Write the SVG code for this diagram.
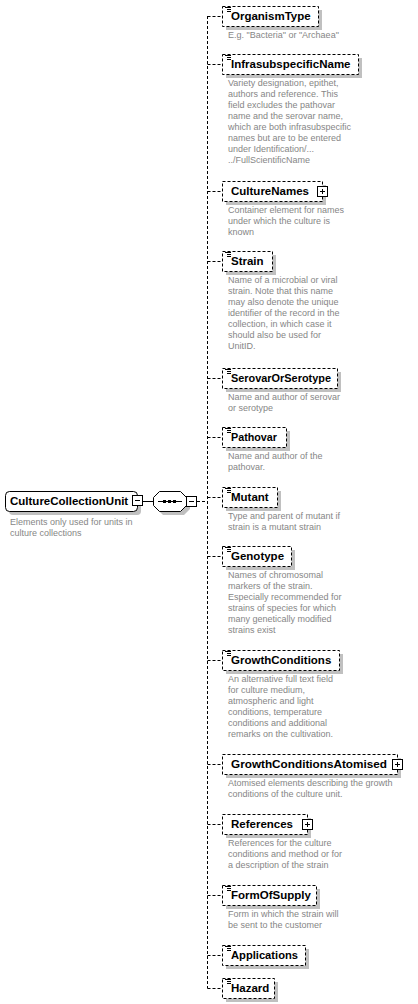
<svg xmlns="http://www.w3.org/2000/svg" width="418" height="1004" viewBox="0 0 418 1004">
<style>
.bg{fill:#fff}
.sh{fill:#c0c0c0}
.box{fill:#fff;stroke:#000;stroke-width:1;stroke-dasharray:3,2}
.solid{fill:#fff;stroke:#000;stroke-width:1}
.btn{fill:#fff;stroke:#000;stroke-width:1}
.ln{stroke:#000;stroke-width:1;fill:none}
.conn{stroke:#000;stroke-width:1;fill:none;stroke-dasharray:3,2}
.name{font-family:"Liberation Sans",Arial,sans-serif;font-weight:bold;font-size:11.5px;fill:#000}
.desc{font-family:"Liberation Sans",Arial,sans-serif;font-size:9px;fill:#868686}
</style>
<defs>
<g id="doc"><rect x="0" y="0" width="7" height="6" fill="#fff"/><path d="M0,0.5H6M2,2.5H6M2,4.5H6" stroke="#000" stroke-width="1"/></g>
<g id="plus"><rect x="0.5" y="0.5" width="10" height="10" class="btn"/><path d="M3,5.5H8M5.5,3V8" stroke="#000" stroke-width="1"/></g>
<g id="minus"><rect x="0.5" y="0.5" width="10" height="10" class="btn"/><path d="M3,5.5H8" stroke="#000" stroke-width="1"/></g>
</defs>
<rect class="bg" width="418" height="1004"/>

<g id="connectors">
<path class="ln" d="M143,501.5H153"/>
<path class="conn" d="M197,501.5H207.5"/>
<path class="conn" d="M207.5,16V988.5"/>
<path class="conn" d="M207.5,16.5H222M207.5,64.5H222M207.5,191.5H222M207.5,261.5H222M207.5,378.5H222M207.5,437.5H222M207.5,497.5H222M207.5,556.5H222M207.5,660.5H222M207.5,764.5H222M207.5,824.5H222M207.5,895.5H222M207.5,955.5H222M207.5,988.5H222"/>
</g>

<g id="CultureCollectionUnit">
<rect class="sh" x="9" y="495" width="132" height="20" rx="4"/>
<rect class="solid" x="5.5" y="491.5" width="132" height="20" rx="4"/>
<text class="name" x="10" y="505">CultureCollectionUnit</text>
<use href="#minus" x="132" y="495"/>
<text class="desc" x="10" y="525">Elements only used for units in</text>
<text class="desc" x="10" y="536">culture collections</text>
</g>

<g id="sequence">
<polygon class="sh" points="163,495 184,495 190,501 190,509 184,515 163,515 157,509 157,501"/>
<polygon class="solid" points="159.5,491.5 180.5,491.5 186.5,497.5 186.5,505.5 180.5,511.5 159.5,511.5 153.5,505.5 153.5,497.5"/>
<path class="ln" d="M158,501.5H182"/>
<rect x="163" y="500" width="3" height="3" fill="#000"/>
<rect x="168" y="500" width="3" height="3" fill="#000"/>
<rect x="173" y="500" width="3" height="3" fill="#000"/>
<use href="#minus" x="186" y="496"/>
</g>

<g id="OrganismType">
<rect class="sh" x="226" y="10" width="96" height="20"/>
<rect class="box" x="222.5" y="6.5" width="96" height="20"/>
<use href="#doc" x="225" y="7"/>
<text class="name" x="231" y="20">OrganismType</text>
<text class="desc" x="228" y="38">E.g. "Bacteria" or "Archaea"</text>
</g>

<g id="InfrasubspecificName">
<rect class="sh" x="226" y="58" width="136" height="20"/>
<rect class="box" x="222.5" y="54.5" width="136" height="20"/>
<use href="#doc" x="225" y="55"/>
<text class="name" x="231" y="68">InfrasubspecificName</text>
<text class="desc" x="228" y="86">Variety designation, epithet,</text>
<text class="desc" x="228" y="97">authors and reference. This</text>
<text class="desc" x="228" y="108">field excludes the pathovar</text>
<text class="desc" x="228" y="119">name and the serovar name,</text>
<text class="desc" x="228" y="130">which are both infrasubspecific</text>
<text class="desc" x="228" y="141">names but are to be entered</text>
<text class="desc" x="228" y="152">under Identification/...</text>
<text class="desc" x="228" y="163">../FullScientificName</text>
</g>

<g id="CultureNames">
<rect class="sh" x="226" y="185" width="100" height="20"/>
<rect class="box" x="222.5" y="181.5" width="100" height="20"/>
<text class="name" x="231" y="195">CultureNames</text>
<use href="#plus" x="317" y="186"/>
<text class="desc" x="228" y="213">Container element for names</text>
<text class="desc" x="228" y="224">under which the culture is</text>
<text class="desc" x="228" y="235">known</text>
</g>

<g id="Strain">
<rect class="sh" x="226" y="255" width="50" height="20"/>
<rect class="box" x="222.5" y="251.5" width="50" height="20"/>
<use href="#doc" x="225" y="252"/>
<text class="name" x="231" y="265">Strain</text>
<text class="desc" x="228" y="283">Name of a microbial or viral</text>
<text class="desc" x="228" y="294">strain. Note that this name</text>
<text class="desc" x="228" y="305">may also denote the unique</text>
<text class="desc" x="228" y="316">identifier of the record in the</text>
<text class="desc" x="228" y="327">collection, in which case it</text>
<text class="desc" x="228" y="338">should also be used for</text>
<text class="desc" x="228" y="349">UnitID.</text>
</g>

<g id="SerovarOrSerotype">
<rect class="sh" x="226" y="372" width="115" height="20"/>
<rect class="box" x="222.5" y="368.5" width="115" height="20"/>
<use href="#doc" x="225" y="369"/>
<text class="name" x="231" y="382" textLength="100" lengthAdjust="spacingAndGlyphs">SerovarOrSerotype</text>
<text class="desc" x="228" y="400">Name and author of serovar</text>
<text class="desc" x="228" y="411">or serotype</text>
</g>

<g id="Pathovar">
<rect class="sh" x="226" y="431" width="64" height="20"/>
<rect class="box" x="222.5" y="427.5" width="64" height="20"/>
<use href="#doc" x="225" y="428"/>
<text class="name" x="231" y="441" textLength="46" lengthAdjust="spacingAndGlyphs">Pathovar</text>
<text class="desc" x="228" y="459">Name and author of the</text>
<text class="desc" x="228" y="470">pathovar.</text>
</g>

<g id="Mutant">
<rect class="sh" x="226" y="491" width="55" height="20"/>
<rect class="box" x="222.5" y="487.5" width="55" height="20"/>
<use href="#doc" x="225" y="488"/>
<text class="name" x="231" y="501">Mutant</text>
<text class="desc" x="228" y="519">Type and parent of mutant if</text>
<text class="desc" x="228" y="530">strain is a mutant strain</text>
</g>

<g id="Genotype">
<rect class="sh" x="226" y="550" width="69" height="20"/>
<rect class="box" x="222.5" y="546.5" width="69" height="20"/>
<use href="#doc" x="225" y="547"/>
<text class="name" x="231" y="560">Genotype</text>
<text class="desc" x="228" y="578">Names of chromosomal</text>
<text class="desc" x="228" y="589">markers of the strain.</text>
<text class="desc" x="228" y="600">Especially recommended for</text>
<text class="desc" x="228" y="611">strains of species for which</text>
<text class="desc" x="228" y="622">many genetically modified</text>
<text class="desc" x="228" y="633">strains exist</text>
</g>

<g id="GrowthConditions">
<rect class="sh" x="226" y="654" width="117" height="20"/>
<rect class="box" x="222.5" y="650.5" width="117" height="20"/>
<use href="#doc" x="225" y="651"/>
<text class="name" x="231" y="664">GrowthConditions</text>
<text class="desc" x="228" y="682">An alternative full text field</text>
<text class="desc" x="228" y="693">for culture medium,</text>
<text class="desc" x="228" y="704">atmospheric and light</text>
<text class="desc" x="228" y="715">conditions, temperature</text>
<text class="desc" x="228" y="726">conditions and additional</text>
<text class="desc" x="228" y="737">remarks on the cultivation.</text>
</g>

<g id="GrowthConditionsAtomised">
<rect class="sh" x="226" y="758" width="175" height="20"/>
<rect class="box" x="222.5" y="754.5" width="175" height="20"/>
<text class="name" x="231" y="768" textLength="156" lengthAdjust="spacingAndGlyphs">GrowthConditionsAtomised</text>
<use href="#plus" x="392" y="759"/>
<text class="desc" x="228" y="786">Atomised elements describing the growth</text>
<text class="desc" x="228" y="797">conditions of the culture unit.</text>
</g>

<g id="References">
<rect class="sh" x="226" y="818" width="85" height="20"/>
<rect class="box" x="222.5" y="814.5" width="85" height="20"/>
<text class="name" x="231" y="828">References</text>
<use href="#plus" x="302" y="819"/>
<text class="desc" x="228" y="846">References for the culture</text>
<text class="desc" x="228" y="857">conditions and method or for</text>
<text class="desc" x="228" y="868">a description of the strain</text>
</g>

<g id="FormOfSupply">
<rect class="sh" x="226" y="889" width="94" height="20"/>
<rect class="box" x="222.5" y="885.5" width="94" height="20"/>
<use href="#doc" x="225" y="886"/>
<text class="name" x="231" y="899">FormOfSupply</text>
<text class="desc" x="228" y="917">Form in which the strain will</text>
<text class="desc" x="228" y="928">be sent to the customer</text>
</g>

<g id="Applications">
<rect class="sh" x="226" y="949" width="83" height="20"/>
<rect class="box" x="222.5" y="945.5" width="83" height="20"/>
<use href="#doc" x="225" y="946"/>
<text class="name" x="231" y="959" textLength="67" lengthAdjust="spacingAndGlyphs">Applications</text>
</g>

<g id="Hazard">
<rect class="sh" x="226" y="982" width="52" height="20"/>
<rect class="box" x="222.5" y="978.5" width="52" height="20"/>
<use href="#doc" x="225" y="979"/>
<text class="name" x="231" y="992">Hazard</text>
</g>
</svg>
